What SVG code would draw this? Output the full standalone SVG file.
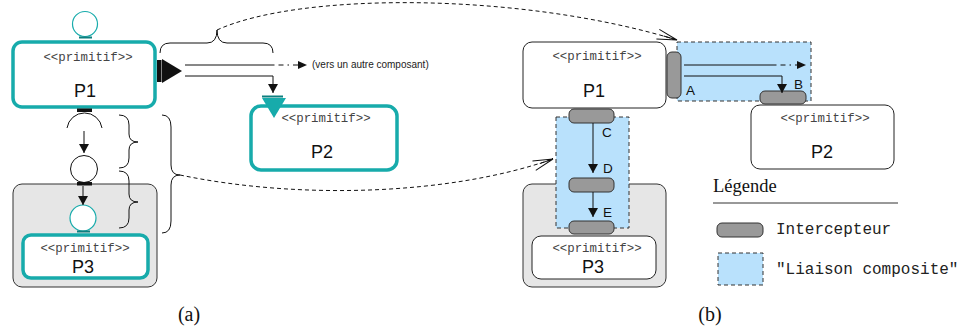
<svg xmlns="http://www.w3.org/2000/svg" width="965" height="327" viewBox="0 0 965 327">
<style>
.teal{fill:#fff;stroke:#17abab;stroke-width:3.5}
.tc{fill:#fff;stroke:#17abab;stroke-width:1.2}
.box{fill:#fff;stroke:#222;stroke-width:1}
.cont{fill:#e6e6e6;stroke:#333;stroke-width:1}
.blue{fill:#b9e1fc;stroke:#333;stroke-width:1;stroke-dasharray:4 3}
.int{fill:#999;stroke:#333;stroke-width:1}
.st{font-family:"Liberation Mono","Courier New",monospace;font-size:12.4px;fill:#444;text-anchor:middle}
.nm{font-family:"Liberation Sans",Arial,sans-serif;font-size:18px;fill:#111;text-anchor:middle}
.lb{font-family:"Liberation Sans",Arial,sans-serif;font-size:13.5px;fill:#111}
.ln{fill:none;stroke:#111;stroke-width:1}
.dd{fill:none;stroke:#111;stroke-width:1;stroke-dasharray:1.5 4 5 4}
.dash{fill:none;stroke:#111;stroke-width:1;stroke-dasharray:4 3}
.cap{font-family:"Liberation Serif","Times New Roman",serif;font-size:20px;fill:#111;text-anchor:middle}
.mono{font-family:"Liberation Mono","Courier New",monospace;font-size:16px;fill:#222}
</style>
<defs>
<marker id="ah" markerWidth="10" markerHeight="10" refX="9" refY="5" orient="auto" markerUnits="userSpaceOnUse">
<path d="M0,0 L9,5 L0,10 Z" fill="#111"/>
</marker>
<marker id="open" markerWidth="24" markerHeight="12" refX="22" refY="6" orient="auto" markerUnits="userSpaceOnUse">
<path d="M2,1 L22,6 L2,11 M8,6 L22,6" fill="none" stroke="#111" stroke-width="1"/>
</marker>
</defs>

<!-- Part (a) -->
<g id="a-p1-port">
<circle class="tc" cx="85" cy="24" r="12.5"/>
<line x1="79" y1="37.5" x2="92" y2="37.5" stroke="#0d7f7f" stroke-width="2"/>
</g>
<g id="a-p1">
<rect class="teal" x="13" y="42" width="142" height="65" rx="9"/>
<text class="st" x="88" y="61">&lt;&lt;primitif&gt;&gt;</text>
<text class="nm" x="85" y="97">P1</text>
</g>
<g id="a-p1-out">
<rect x="77" y="108.5" width="15" height="3.5" fill="#111"/>
<path class="ln" d="M67,128 A17.7,17.7 0 0 1 102,128"/>
</g>
<g id="a-mid">
<circle cx="84" cy="169" r="13.5" fill="#fff" stroke="#111" stroke-width="1"/>
</g>
<g id="a-p3-cont">
<rect class="cont" x="13" y="184" width="144" height="103" rx="9"/>
</g>
<g id="a-mid-bar">
<rect x="77" y="182" width="15" height="3.5" fill="#111"/>
</g>
<g id="a-p3-port">
<circle class="tc" cx="83" cy="218" r="13"/>
<line x1="77" y1="231.5" x2="90" y2="231.5" stroke="#0d7f7f" stroke-width="2"/>
</g>
<g id="a-p3">
<rect class="teal" x="23" y="235" width="125" height="43" rx="8"/>
<text class="st" x="85" y="252">&lt;&lt;primitif&gt;&gt;</text>
<text class="nm" x="83" y="273">P3</text>
</g>
<g id="a-p1-right">
<rect x="157" y="60" width="4.5" height="22" fill="#111"/>
<path d="M162,59 L162,83 L182,71 Z" fill="#111"/>
</g>
<g id="a-p2">
<rect class="teal" x="251" y="106" width="146" height="64" rx="10"/>
<text class="st" x="326" y="122">&lt;&lt;primitif&gt;&gt;</text>
<text class="nm" x="322" y="158">P2</text>
</g>
<g id="a-p2-port">
<line x1="262" y1="96.5" x2="283" y2="96.5" stroke="#0d7f7f" stroke-width="2"/>
<path d="M262,98 L286,98 L274,118 Z" fill="#17abab"/>
</g>
<g id="a-note">
<text x="312" y="68" font-family="Liberation Sans,Arial,sans-serif" font-size="10" fill="#222">(vers un autre composant)</text>
</g>

<!-- Part (b) -->
<g id="b-p1">
<rect class="box" x="523" y="42" width="143" height="66" rx="9"/>
<text class="st" x="597" y="60">&lt;&lt;primitif&gt;&gt;</text>
<text class="nm" x="594" y="97">P1</text>
</g>
<g id="b-liaison1">
<rect class="blue" x="677" y="42" width="134" height="59"/>
</g>
<g id="b-p2">
<rect class="box" x="751" y="105" width="143" height="64" rx="9"/>
<text class="st" x="825" y="122">&lt;&lt;primitif&gt;&gt;</text>
<text class="nm" x="822" y="158">P2</text>
</g>
<g id="b-int-a">
<rect class="int" x="667" y="52" width="14" height="46" rx="5"/>
<text class="lb" x="686" y="95">A</text>
</g>
<g id="b-int-b">
<rect class="int" x="760" y="91" width="46" height="13" rx="5"/>
<text class="lb" x="794" y="89">B</text>
</g>
<g id="b-p3-cont">
<rect class="cont" x="523" y="184" width="143" height="103" rx="9"/>
</g>
<g id="b-liaison2">
<rect class="blue" x="556" y="117" width="73" height="111"/>
</g>
<g id="b-int-c">
<rect class="int" x="569" y="109" width="45" height="14" rx="5"/>
<text class="lb" x="602" y="137">C</text>
</g>
<g id="b-int-d">
<rect class="int" x="569" y="178" width="45" height="14" rx="5"/>
<text class="lb" x="603" y="173">D</text>
</g>
<g id="b-int-e">
<rect class="int" x="569" y="221" width="45" height="13" rx="5"/>
<text class="lb" x="603" y="217">E</text>
</g>
<g id="b-p3">
<rect class="box" x="532" y="236" width="124" height="43" rx="9"/>
<text class="st" x="597" y="252">&lt;&lt;primitif&gt;&gt;</text>
<text class="nm" x="593" y="273">P3</text>
</g>

<!-- Legend -->
<g id="legend">
<text x="713" y="192" font-family="Liberation Serif,Times New Roman,serif" font-size="18.5" fill="#111">Légende</text>
<line x1="713" y1="203" x2="898" y2="203" stroke="#333" stroke-width="1"/>
<rect class="int" x="717" y="223" width="46" height="14" rx="5"/>
<text class="mono" x="776" y="234">Intercepteur</text>
<rect class="blue" x="718" y="253" width="45" height="32"/>
<text class="mono" x="776" y="274">"Liaison composite"</text>
</g>

<!-- Connectors -->
<g id="connectors">
<line class="ln" x1="84" y1="131" x2="84" y2="153" marker-end="url(#ah)"/>
<line class="ln" x1="83" y1="186" x2="83" y2="205" marker-end="url(#ah)"/>
<line class="ln" x1="185" y1="65" x2="273" y2="65"/>
<line class="dd" x1="273" y1="65" x2="298" y2="65"/>
<path d="M298,61 L307,65 L298,69 Z" fill="#111"/>
<path class="ln" d="M185,76 L273,76 L273,93" marker-end="url(#ah)"/>
<path class="ln" d="M160,53 Q160,43 170,43 L207,43 Q217,43 217,30 Q217,43 227,43 L263,43 Q273,43 273,53"/>
<path class="ln" d="M119,115 Q129,115 129,125 L129,134 Q129,142 138,142 Q129,142 129,150 L129,158 Q129,168 119,168"/>
<path class="ln" d="M119,171 Q129,171 129,181 L129,194 Q129,202 138,202 Q129,202 129,210 L129,218 Q129,228 119,228"/>
<path class="ln" d="M162,115 Q171,115 171,127 L171,165 Q171,175 180,175 Q171,175 171,185 L171,221 Q171,233 162,233"/>
<path class="dash" d="M217,30 C300,-8 520,-8 677,40" marker-end="url(#open)"/>
<path class="dash" d="M180,175 C300,200 450,195 553,159" marker-end="url(#open)"/>
<line class="ln" x1="684" y1="65" x2="775" y2="65"/>
<line class="dd" x1="775" y1="65" x2="797" y2="65"/>
<path d="M797,61 L806,65 L797,69 Z" fill="#111"/>
<path class="ln" d="M684,76 L782,76 L782,93" marker-end="url(#ah)"/>
<line class="ln" x1="593" y1="123" x2="593" y2="173" marker-end="url(#ah)"/>
<line class="ln" x1="593" y1="192" x2="593" y2="217" marker-end="url(#ah)"/>
</g>

<text class="cap" x="189" y="321">(a)</text>
<text class="cap" x="710" y="321">(b)</text>
</svg>
